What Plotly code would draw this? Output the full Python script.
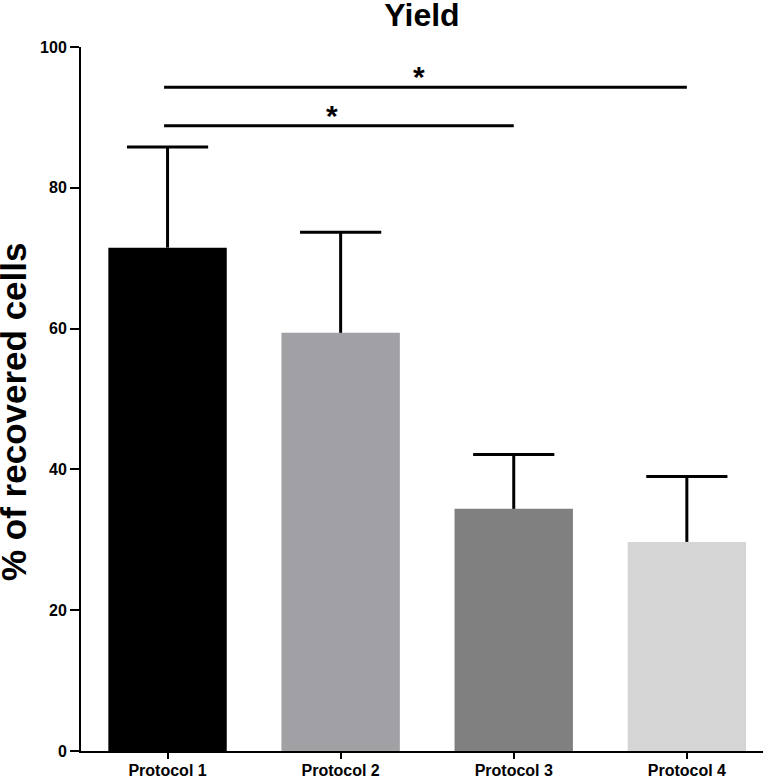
import plotly.graph_objects as go

categories = ["Protocol 1", "Protocol 2", "Protocol 3", "Protocol 4"]
means = [71.5, 59.4, 34.4, 29.7]
errors = [14.3, 14.3, 7.7, 9.3]
bar_colors = ["#000000", "#a1a1a5", "#808080", "#d5d5d5"]

# significance comparisons: (start index, end index, label, y level)
sig_start = [0, 0]
sig_end = [3, 2]
sig_label = ["*", "*"]
sig_level = [94.3, 88.8]

FONT = "Liberation Sans, Arial, Helvetica, sans-serif"

tops = [m + e for m, e in zip(means, errors)]

fig = go.Figure()
fig.add_trace(go.Bar(
    x=categories,
    y=means,
    marker=dict(color=bar_colors, line=dict(width=0)),
    showlegend=False,
    hoverinfo="skip",
))
# upper error bars: stem from mean to mean+err, cap only at the top
fig.add_trace(go.Scatter(
    x=categories,
    y=tops,
    mode="markers",
    marker=dict(symbol="line-ew", size=58, color="black",
                line=dict(color="black", width=3)),
    error_y=dict(type="data", symmetric=False, array=[0] * len(errors),
                 arrayminus=errors, color="black", thickness=3, width=0),
    showlegend=False,
))

shapes = []
annotations = []
for s, e, lab, lv in zip(sig_start, sig_end, sig_label, sig_level):
    shapes.append(dict(type="line", xref="x", yref="y", x0=s - 0.02, x1=e,
                       y0=lv, y1=lv, line=dict(color="black", width=3)))
    annotations.append(dict(x=(s + e) / 2 - 0.05, y=lv, xref="x", yref="y",
                            text="<b>*</b>", showarrow=False, yanchor="bottom",
                            yshift=-8,
                            font=dict(family=FONT, size=30, color="black")))

annotations.append(dict(x=0, xref="paper", xshift=-68, y=0.5, yref="paper",
                        yshift=-13, text="<b>% of recovered cells</b>",
                        textangle=-90, showarrow=False, xanchor="center",
                        yanchor="middle",
                        font=dict(family=FONT, size=35, color="black")))

fig.update_layout(
    width=775, height=779,
    margin=dict(l=81, r=12, t=47, b=28),
    paper_bgcolor="white", plot_bgcolor="white",
    bargap=0.316,
    title=dict(text="<b>Yield</b>", x=0.5, xref="paper", xanchor="center",
               y=0.995, yref="container", yanchor="top",
               font=dict(family=FONT, size=32, color="black")),
    shapes=shapes,
    annotations=annotations,
    xaxis=dict(range=[-0.5, 3.44], showline=True, linecolor="black",
               linewidth=2, ticks="outside", ticklen=6, tickwidth=2,
               tickcolor="black", showgrid=False, zeroline=False,
               automargin=False, ticklabelstandoff=-2,
               tickfont=dict(family=FONT, size=16, color="black", weight="bold")),
    yaxis=dict(range=[0, 100], tickvals=[0, 20, 40, 60, 80, 100],
               showline=True, linecolor="black", linewidth=2,
               ticks="outside", ticklen=9, tickwidth=2, tickcolor="black",
               showgrid=False, zeroline=False, automargin=False,
               tickfont=dict(family=FONT, size=16, color="black", weight="bold")),
)

fig.write_html("out.html",
               config={"displayModeBar": False},
               post_script="document.body.style.margin='0';")
